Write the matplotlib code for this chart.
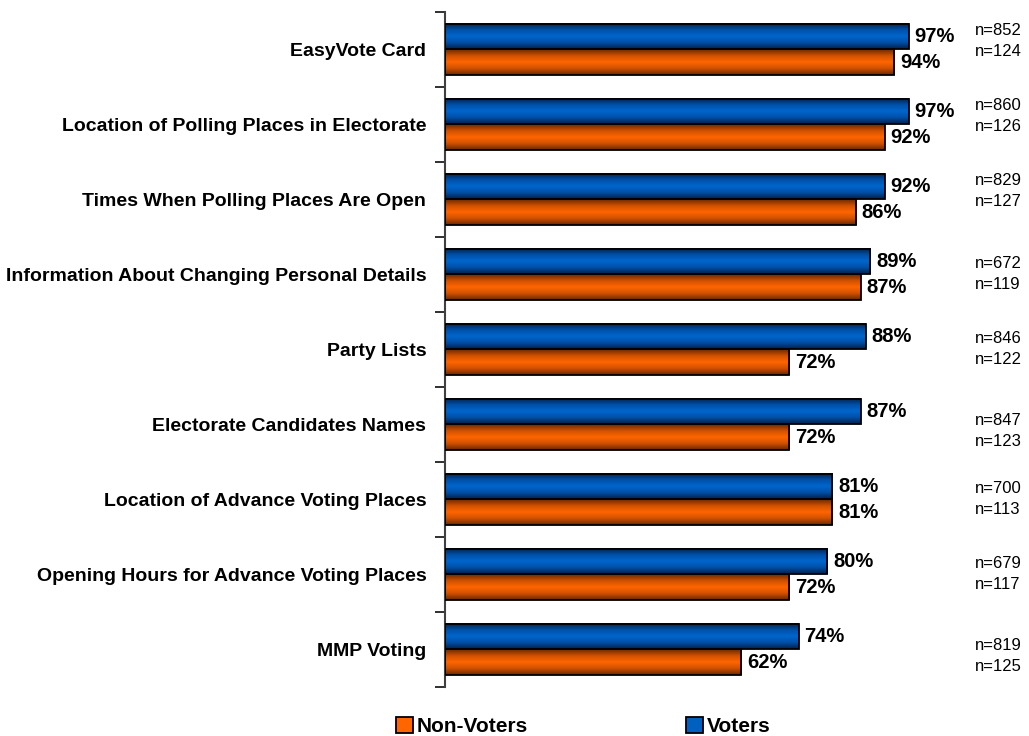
import numpy as np
import matplotlib
matplotlib.use("Agg")
import matplotlib.pyplot as plt
from matplotlib.colors import LinearSegmentedColormap
from matplotlib.patches import Patch

plt.rcParams['font.family'] = ['Liberation Sans', 'DejaVu Sans']

categories = [
    "EasyVote Card",
    "Location of Polling Places in Electorate",
    "Times When Polling Places Are Open",
    "Information About Changing Personal Details",
    "Party Lists",
    "Electorate Candidates Names",
    "Location of Advance Voting Places",
    "Opening Hours for Advance Voting Places",
    "MMP Voting",
]
voters = [97, 97, 92, 89, 88, 87, 81, 80, 74]
non_voters = [94, 92, 86, 87, 72, 72, 81, 72, 62]
n_voters = [852, 860, 829, 672, 846, 847, 700, 679, 819]
n_non_voters = [124, 126, 127, 119, 122, 123, 113, 117, 125]

# vertical nudge of the sample-size labels per row (category units)
n_shift = [-0.11, -0.11, -0.11, 0, 0, 0.09, 0, 0, 0.09]

blue_cmap = LinearSegmentedColormap.from_list(
    "blue_bar", ["#00204a", "#0050a8", "#0066cc", "#0050a8", "#00204a"])
orange_cmap = LinearSegmentedColormap.from_list(
    "orange_bar", ["#6a2800", "#d05000", "#ff6600", "#d05000", "#6a2800"])

fig = plt.figure(figsize=(10.29, 7.36), dpi=100)
ax = fig.add_axes([0.4325, 0.0666, 0.4645, 0.9171])

y = np.arange(len(categories))
h = 0.34
grad = np.linspace(0, 1, 64).reshape(-1, 1)


def shaded_bars(ypos, values, cmap):
    bars = ax.barh(ypos, values, height=h, facecolor='none',
                   edgecolor='black', linewidth=1.3, zorder=3)
    for bar in bars:
        x0, y0 = bar.get_x(), bar.get_y()
        ax.imshow(grad, extent=(x0, x0 + bar.get_width(), y0 + h, y0),
                  aspect='auto', cmap=cmap, interpolation='bicubic', zorder=2)
    return bars


shaded_bars(y - h / 2, voters, blue_cmap)
shaded_bars(y + h / 2, non_voters, orange_cmap)

for i in range(len(categories)):
    ax.text(voters[i] + 1.2, y[i] - h / 2, f"{voters[i]}%", ha='left',
            va='center', fontsize=14.5, fontweight='bold', zorder=4)
    ax.text(non_voters[i] + 1.2, y[i] + h / 2, f"{non_voters[i]}%", ha='left',
            va='center', fontsize=14.5, fontweight='bold', zorder=4)
    ax.text(110.9, y[i] + n_shift[i] - 0.147, f"n={n_voters[i]}", ha='left',
            va='center', fontsize=12, clip_on=False)
    ax.text(110.9, y[i] + n_shift[i] + 0.133, f"n={n_non_voters[i]}", ha='left',
            va='center', fontsize=12, clip_on=False)

ax.set_xlim(0, 100)
ax.set_ylim(len(categories) - 0.5, -0.5)

# category names on major ticks, separators on minor ticks
ax.set_yticks(y)
ax.set_yticklabels(categories, fontsize=14, fontweight='bold')
ax.tick_params(axis='y', which='major', length=0, pad=13.5)
ax.set_yticks(np.arange(len(categories) + 1) - 0.5, minor=True)
ax.tick_params(axis='y', which='minor', length=7, width=1.3, color='#202020',
               direction='out')
ax.set_xticks([])

for side in ['top', 'right', 'bottom']:
    ax.spines[side].set_visible(False)
ax.spines['left'].set_color('#404040')
ax.spines['left'].set_linewidth(1.5)

handles = [Patch(facecolor='#ff6600', edgecolor='black', linewidth=1.3),
           Patch(facecolor='#0060c0', edgecolor='black', linewidth=1.3)]
fig.legend(handles, ['Non-Voters', 'Voters'], loc='center',
           bbox_to_anchor=(0.567, 0.013), ncol=2, frameon=False,
           prop={'size': 15, 'weight': 'bold'}, handlelength=0.8,
           handleheight=0.8, handletextpad=0.2, columnspacing=7.6)

fig.savefig("out.png", dpi=100)
